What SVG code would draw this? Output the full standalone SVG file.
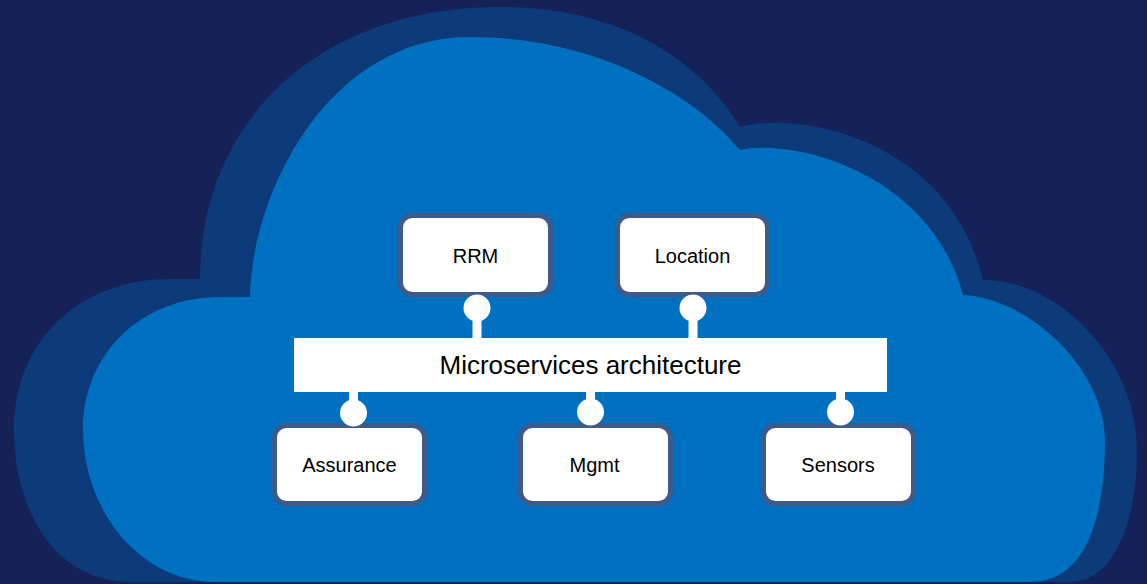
<svg xmlns="http://www.w3.org/2000/svg" width="1147" height="584" viewBox="0 0 1147 584">
  <style>
    .bg { fill: #142258; }
    .cloud-back { fill: #0d3a78; }
    .cloud-front { fill: #0070c0; }
    .box { fill: #ffffff; stroke: #3d5a8a; stroke-width: 5; }
    .bar { fill: #ffffff; }
    .label { font-family: "Liberation Sans", Arial, sans-serif; font-size: 20px; fill: #000000; text-anchor: middle; }
    .title { font-family: "Liberation Sans", Arial, sans-serif; font-size: 26px; fill: #000000; text-anchor: middle; }
    .link { fill: #ffffff; }
  </style>
  <rect class="bg" x="0" y="0" width="1147" height="584"/>
  <g id="cloud">
    <path class="cloud-back" d="M 130,582 C 55,582 14,510 14,430 C 14,340 80,279 170,279 L 200,279 C 200,120 320,7 500,7 C 620,7 700,60 740,127 C 800,110 950,140 983,280 C 1060,280 1137,360 1137,450 C 1137,530 1110,582 1070,582 Z"/>
    <path class="cloud-front" d="M 215,582 C 140,582 83,510 83,430 C 83,355 140,297 220,297 L 250,297 C 252,190 330,37 470,37 C 590,37 690,90 740,150 C 790,138 930,170 963,295 C 1030,298 1105,370 1105,440 C 1105,530 1080,582 1030,582 Z"/>
  </g>
  <g id="microservices">
    <rect class="bar" x="294" y="338" width="593" height="54"/>
    <text class="title" x="590.5" y="374">Microservices architecture</text>
  </g>
  <g id="rrm">
    <rect class="box" x="400.5" y="215.5" width="150" height="79" rx="12"/>
    <text class="label" x="475.5" y="263">RRM</text>
  </g>
  <g id="location">
    <rect class="box" x="617.5" y="215.5" width="150" height="79" rx="12"/>
    <text class="label" x="692.5" y="263">Location</text>
  </g>
  <g id="assurance">
    <rect class="box" x="274.5" y="425.5" width="150" height="78" rx="12"/>
    <text class="label" x="349.5" y="472">Assurance</text>
  </g>
  <g id="mgmt">
    <rect class="box" x="520.5" y="425.5" width="150" height="78" rx="12"/>
    <text class="label" x="594.5" y="472">Mgmt</text>
  </g>
  <g id="sensors">
    <rect class="box" x="763.5" y="425.5" width="150" height="78" rx="12"/>
    <text class="label" x="838" y="472">Sensors</text>
  </g>
  <g id="connectors">
    <rect class="link" x="472.5" y="308" width="9" height="31"/>
    <circle class="link" cx="477" cy="308" r="13.5"/>
    <rect class="link" x="688.5" y="308" width="9" height="31"/>
    <circle class="link" cx="693" cy="308" r="13.5"/>
    <rect class="link" x="349" y="391" width="9" height="22"/>
    <circle class="link" cx="353.5" cy="413" r="13.5"/>
    <rect class="link" x="586" y="391" width="9" height="22"/>
    <circle class="link" cx="590.5" cy="412" r="13.5"/>
    <rect class="link" x="836" y="391" width="9" height="22"/>
    <circle class="link" cx="840.5" cy="412" r="13.5"/>
  </g>
</svg>
